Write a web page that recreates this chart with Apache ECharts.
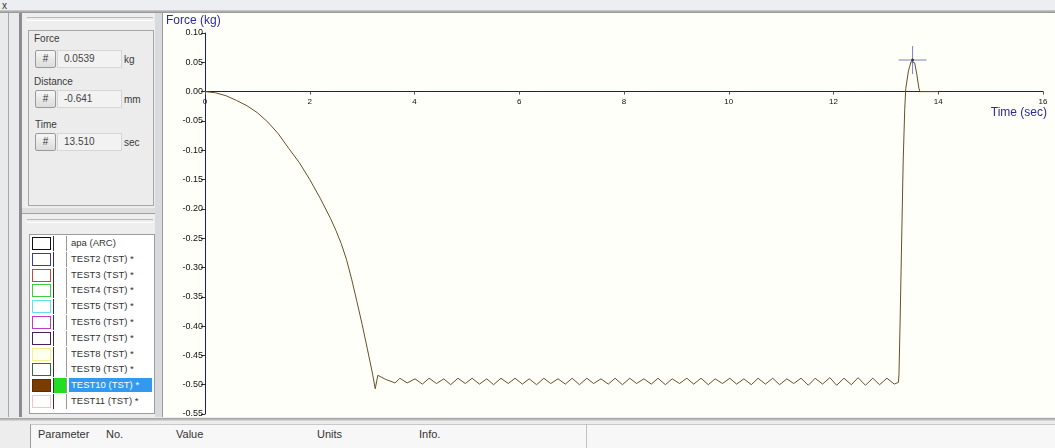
<!DOCTYPE html>
<html><head><meta charset="utf-8">
<script src="https://cdn.jsdelivr.net/npm/echarts@6/dist/echarts.min.js"></script>
<style>
html,body{margin:0;padding:0;}
body{width:1055px;height:448px;overflow:hidden;position:relative;background:#e9eaec;font-family:"DejaVu Sans",sans-serif;}
.abs{position:absolute;}
#chart{position:absolute;left:163px;top:13px;width:892px;height:404px;background:#fffff9;}
.lbl{position:absolute;font-size:10px;color:#3a3a3a;font-family:"Liberation Sans",sans-serif;}
.btn{position:absolute;width:19px;height:16px;border:1px solid #9a9a9a;border-radius:2px;background:linear-gradient(#f6f6f6,#dcdcdc);font-size:10px;text-align:center;line-height:16px;color:#333;font-family:"Liberation Sans",sans-serif;}
.box{position:absolute;height:16px;border:1px solid #d6d6d6;background:#f2f2f2;font-size:10px;line-height:16px;color:#444;padding-left:6px;font-family:"Liberation Sans",sans-serif;}
.row{position:absolute;left:32px;height:14px;}
.sw{position:absolute;left:0;top:0;width:17px;height:11px;border:1px solid #000;background:#fff;}
.ck{position:absolute;left:21px;top:-1px;width:12px;height:15px;border-left:1px solid #333;border-right:1px solid #999;background:#fff;}
.tx{position:absolute;left:37px;top:-1px;font-size:9.5px;line-height:14px;color:#333;font-family:"Liberation Sans",sans-serif;white-space:nowrap;padding:0 2px;}
.hd{position:absolute;top:428px;font-size:11px;color:#333;font-family:"Liberation Sans",sans-serif;}
</style></head>
<body>
<!-- window chrome -->
<div class="abs" style="left:0;top:0;width:1055px;height:10px;background:#eceef1;"></div>
<div class="abs" style="left:0;top:10px;width:1055px;height:3px;background:linear-gradient(#cfcfcf,#8e8e8e);"></div>
<div class="abs" style="left:2px;top:0px;font-size:10px;color:#333;font-family:'Liberation Sans';">x</div>
<div class="abs" style="left:8px;top:13px;width:1px;height:405px;background:#a8a8a8;"></div>
<div class="abs" style="left:19px;top:13px;width:3px;height:405px;background:#8c8c8c;"></div>
<div class="abs" style="left:22px;top:13px;width:133px;height:405px;background:#eeeeee;"></div>
<div class="abs" style="left:155px;top:13px;width:8px;height:405px;background:#d9dadc;border-right:1px solid #9a9a9a;box-sizing:border-box;"></div>
<!-- readout group -->
<div class="abs" style="left:27px;top:17px;width:126px;height:2px;border-top:1px solid #b8b8b8;border-bottom:1px solid #fff;"></div>
<div class="abs" style="left:28px;top:30px;width:124px;height:174px;border:1px solid #a5a5a5;background:#ececec;"></div>
<div class="lbl" style="left:34px;top:33px;">Force</div>
<div class="btn" style="left:35px;top:50px;">#</div>
<div class="box" style="left:57px;top:50px;width:57px;">0.0539</div>
<div class="lbl" style="left:124px;top:54px;">kg</div>
<div class="lbl" style="left:34px;top:76px;">Distance</div>
<div class="btn" style="left:35px;top:90px;">#</div>
<div class="box" style="left:57px;top:90px;width:57px;">-0.641</div>
<div class="lbl" style="left:124px;top:94px;">mm</div>
<div class="lbl" style="left:35px;top:119px;">Time</div>
<div class="btn" style="left:35px;top:133px;">#</div>
<div class="box" style="left:57px;top:133px;width:57px;">13.510</div>
<div class="lbl" style="left:124px;top:137px;">sec</div>
<!-- splitter -->
<div class="abs" style="left:22px;top:208px;width:133px;height:5px;background:#dedede;border-bottom:1px solid #a0a0a0;"></div>
<div class="abs" style="left:27px;top:219px;width:126px;height:2px;border-top:1px solid #b8b8b8;border-bottom:1px solid #fff;"></div>
<!-- list -->
<div class="abs" style="left:29px;top:234px;width:124px;height:178px;border:1px solid #9d9d9d;background:#fff;"></div>
<div id="list"></div>
<!-- bottom header -->
<div class="abs" style="left:0;top:417px;width:1055px;height:31px;background:#ededed;"></div>
<div class="abs" style="left:0;top:418px;width:1055px;height:3px;background:linear-gradient(#9c9c9c,#dcdcdc);"></div>
<div class="abs" style="left:30px;top:424px;width:1025px;height:24px;background:#f7f7f7;border-left:1px solid #9a9a9a;border-top:1px solid #c8c8c8;"></div>
<div class="abs" style="left:586px;top:424px;width:1px;height:24px;background:#c0c0c0;"></div>
<div class="hd" style="left:38px;">Parameter</div>
<div class="hd" style="left:106px;">No.</div>
<div class="hd" style="left:176px;">Value</div>
<div class="hd" style="left:317px;">Units</div>
<div class="hd" style="left:419px;">Info.</div>
<div id="chart"></div>
<script>
// ---- data ----
var testNames = ["apa (ARC)","TEST2 (TST) *","TEST3 (TST) *","TEST4 (TST) *","TEST5 (TST) *","TEST6 (TST) *","TEST7 (TST) *","TEST8 (TST) *","TEST9 (TST) *","TEST10 (TST) *","TEST11 (TST) *"];
var testColors = ["#111111","#3a3aa8","#c24a3a","#3ccf3c","#5fe3e3","#c23cc2","#4a1f5a","#f3f08a","#2f6f3f","#7a3c00","#efc6c6"];
var xTicks = [0,2,4,6,8,10,12,14,16];
var yTicks = [0.10,0.05,0.00,-0.05,-0.10,-0.15,-0.20,-0.25,-0.30,-0.35,-0.40,-0.45,-0.50,-0.55];
var timeSec = [0,0.2,0.4,0.6,0.8,1.0,1.2,1.4,1.6,1.8,2.0,2.2,2.4,2.5,2.6,2.7,2.8,2.9,3.0,3.1,3.2,3.25,
 3.30,3.45,3.63,3.72,3.86,4.01,4.15,4.28,4.42,4.56,4.69,4.83,4.97,5.10,5.24,5.38,5.51,5.65,5.79,5.92,
 6.06,6.19,6.33,6.47,6.60,6.74,6.88,7.01,7.15,7.29,7.42,7.56,7.70,7.83,7.97,8.11,8.24,8.38,8.52,8.65,
 8.79,8.92,9.06,9.20,9.33,9.47,9.61,9.74,9.88,10.02,10.15,10.29,10.43,10.56,10.70,10.84,10.97,11.11,11.24,11.38,
 11.52,11.65,11.79,11.93,12.06,12.20,12.34,12.47,12.61,12.75,12.88,13.02,13.16,13.24,13.25,13.27,13.30,13.33,13.36,13.38,
 13.43,13.48,13.51,13.55,13.59,13.63,13.65,14.00];
var forceKg = [0,-0.002,-0.007,-0.015,-0.024,-0.036,-0.052,-0.072,-0.097,-0.121,-0.150,-0.182,-0.217,-0.237,-0.259,-0.286,-0.320,-0.358,-0.397,-0.439,-0.482,-0.507,
 -0.484,-0.491,-0.497,-0.489,-0.497,-0.490,-0.499,-0.489,-0.498,-0.490,-0.500,-0.489,-0.498,-0.489,-0.499,-0.490,-0.500,-0.489,-0.498,-0.489,
 -0.499,-0.490,-0.500,-0.489,-0.498,-0.490,-0.499,-0.489,-0.500,-0.489,-0.498,-0.490,-0.499,-0.489,-0.500,-0.489,-0.498,-0.490,-0.499,-0.489,
 -0.500,-0.490,-0.498,-0.489,-0.499,-0.489,-0.500,-0.490,-0.498,-0.489,-0.499,-0.490,-0.500,-0.489,-0.499,-0.489,-0.500,-0.490,-0.498,-0.489,
 -0.501,-0.489,-0.499,-0.488,-0.501,-0.489,-0.500,-0.488,-0.501,-0.489,-0.500,-0.489,-0.499,-0.496,-0.482,-0.400,-0.260,-0.120,-0.030,0.005,
 0.035,0.051,0.0539,0.049,0.030,0.006,0.0,0.0];
var cursorPoint = [13.51, 0.0539];

// ---- list panel ----
var listEl = document.getElementById('list');
testNames.forEach(function(n,i){
  var r = document.createElement('div');
  r.className='row'; r.style.top=(237+i*15.8)+'px';
  var sw=document.createElement('div'); sw.className='sw';
  sw.style.borderColor = testColors[i];
  if(i===9){ sw.style.background=testColors[i]; sw.style.borderColor='#5a2c00'; }
  if(i===7){ sw.style.background='#fffff0'; }
  var ck=document.createElement('div'); ck.className='ck';
  if(i===9){ ck.style.background='#22dd22'; }
  var tx=document.createElement('div'); tx.className='tx'; tx.textContent=n;
  if(i===9){ tx.style.background='#3399ee'; tx.style.color='#fff'; tx.style.width='79px'; }
  r.appendChild(sw); r.appendChild(ck); r.appendChild(tx);
  listEl.appendChild(r);
});

// ---- chart ----
var chart = echarts.init(document.getElementById('chart'), null, {renderer:'canvas'});
var pts = timeSec.map(function(t,i){return [t, forceKg[i]];});
var axisCol = '#1c1c7c';
var gTop = 20, gBottom = 3, chartH = 404;
var plotH = chartH - gTop - gBottom;
var yMin = yTicks[yTicks.length-1], yMax = yTicks[0];
var zeroOffset = -plotH * (0 - yMin) / (yMax - yMin);
chart.setOption({
  animation:false,
  backgroundColor:'#fffff9',
  grid:{left:42, right:12, top:gTop, bottom:gBottom, outerBoundsMode:'none', containLabel:false},
  xAxis:{type:'value', min:xTicks[0], max:xTicks[xTicks.length-1], interval:2, position:'bottom', offset:zeroOffset,
    axisLine:{onZero:false, lineStyle:{color:axisCol, width:1}},
    axisTick:{show:true, inside:false, length:3, lineStyle:{color:'#555'}},
    axisLabel:{fontSize:8, color:'#111', margin:6, fontFamily:'Liberation Sans', showMinLabel:true, showMaxLabel:true},
    splitLine:{show:false}},
  yAxis:{type:'value', min:yMin, max:yMax, interval:0.05,
    axisLine:{show:true, lineStyle:{color:axisCol, width:1}},
    axisTick:{show:true, length:4, lineStyle:{color:'#333'}},
    axisLabel:{fontSize:9, color:'#111', margin:2, fontFamily:'Liberation Sans',
      formatter:function(v){ var s=Number(v).toFixed(2); return s==='-0.00'?'0.00':s; }},
    splitLine:{show:false}},
  graphic:[
    {type:'text', left:3, top:2, style:{text:'Force (kg)', fontSize:12, fill:'#2b2ba0', fontFamily:'Liberation Sans'}},
    {type:'text', right:8, top:94, style:{text:'Time (sec)', fontSize:12, fill:'#2b2ba0', fontFamily:'Liberation Sans'}}
  ],
  series:[
    {type:'line', data:pts, showSymbol:false, symbol:'none', lineStyle:{color:'#64522a', width:1}, z:3},
    {type:'scatter', data:[cursorPoint], symbol:'path://M0,14 L28,14 M14,0 L14,28', symbolSize:[28,28],
      itemStyle:{color:'none', borderColor:'#5c5cb8', borderWidth:1}, z:5},
    {type:'scatter', data:[cursorPoint], symbol:'circle', symbolSize:3, itemStyle:{color:'#222'}, z:6}
  ]
});
</script>
</body></html>
